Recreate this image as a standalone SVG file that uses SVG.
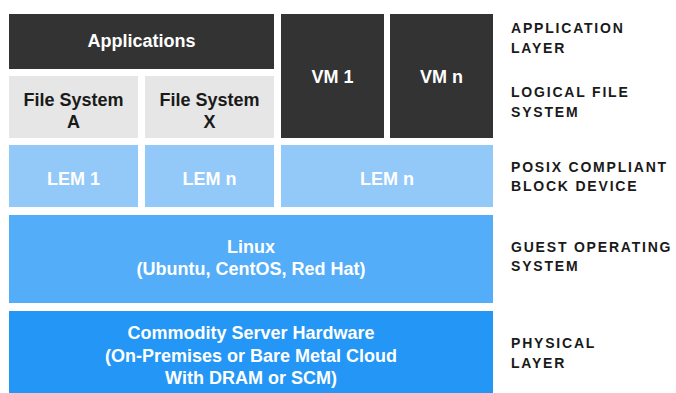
<svg xmlns="http://www.w3.org/2000/svg" width="676" height="393" viewBox="0 0 676 393">
  <style>
    .box-text { font-family: "Liberation Sans", Arial, sans-serif; font-size: 18px; font-weight: bold; text-anchor: middle; }
    .light { fill: #ffffff; }
    .darktxt { fill: #1a1a1a; }
    .dark { fill: #333333; }
    .gray { fill: #e6e6e6; }
    .lem { fill: #93c9f8; }
    .os { fill: #53adf8; }
    .hw { fill: #2497f6; }
    .layer { font-family: "Liberation Sans", Arial, sans-serif; font-size: 14px; font-weight: bold; fill: #1a1a1a; letter-spacing: 1.8px; }
  </style>
  <rect width="676" height="393" fill="#ffffff"/>

  <g id="applications">
    <rect class="dark" x="9" y="14" width="265" height="55"/>
    <text class="box-text light" x="141.5" y="47">Applications</text>
  </g>
  <g id="fs-a">
    <rect class="gray" x="9" y="76" width="129" height="62"/>
    <text class="box-text darktxt" x="73.5" y="106">File System</text>
    <text class="box-text darktxt" x="73.5" y="128">A</text>
  </g>
  <g id="fs-x">
    <rect class="gray" x="145" y="76" width="129" height="62"/>
    <text class="box-text darktxt" x="209.5" y="106">File System</text>
    <text class="box-text darktxt" x="209.5" y="128">X</text>
  </g>
  <g id="vm-1">
    <rect class="dark" x="281" y="14" width="103" height="124"/>
    <text class="box-text light" x="332.5" y="83">VM 1</text>
  </g>
  <g id="vm-n">
    <rect class="dark" x="390" y="14" width="103" height="124"/>
    <text class="box-text light" x="441.5" y="83">VM n</text>
  </g>

  <g id="lem-1">
    <rect class="lem" x="9" y="145" width="129" height="62"/>
    <text class="box-text light" x="73.5" y="185">LEM 1</text>
  </g>
  <g id="lem-n-a">
    <rect class="lem" x="145" y="145" width="129" height="62"/>
    <text class="box-text light" x="209.5" y="185">LEM n</text>
  </g>
  <g id="lem-n-b">
    <rect class="lem" x="281" y="145" width="212" height="62"/>
    <text class="box-text light" x="387" y="185">LEM n</text>
  </g>

  <g id="linux">
    <rect class="os" x="9" y="215" width="484" height="88"/>
    <text class="box-text light" x="251" y="253">Linux</text>
    <text class="box-text light" x="251" y="275">(Ubuntu, CentOS, Red Hat)</text>
  </g>

  <g id="hardware">
    <rect class="hw" x="9" y="311" width="484" height="82"/>
    <text class="box-text light" x="251" y="339">Commodity Server Hardware</text>
    <text class="box-text light" x="251" y="362">(On-Premises or Bare Metal Cloud</text>
    <text class="box-text light" x="251" y="384">With DRAM or SCM)</text>
  </g>

  <g id="connectors"></g>

  <g id="layer-labels">
    <text class="layer" x="511" y="33">APPLICATION</text>
    <text class="layer" x="511" y="53">LAYER</text>
    <text class="layer" x="511" y="97">LOGICAL FILE</text>
    <text class="layer" x="511" y="117">SYSTEM</text>
    <text class="layer" x="511" y="172">POSIX COMPLIANT</text>
    <text class="layer" x="511" y="191">BLOCK DEVICE</text>
    <text class="layer" x="511" y="252">GUEST OPERATING</text>
    <text class="layer" x="511" y="271">SYSTEM</text>
    <text class="layer" x="511" y="348">PHYSICAL</text>
    <text class="layer" x="511" y="368">LAYER</text>
  </g>
</svg>
